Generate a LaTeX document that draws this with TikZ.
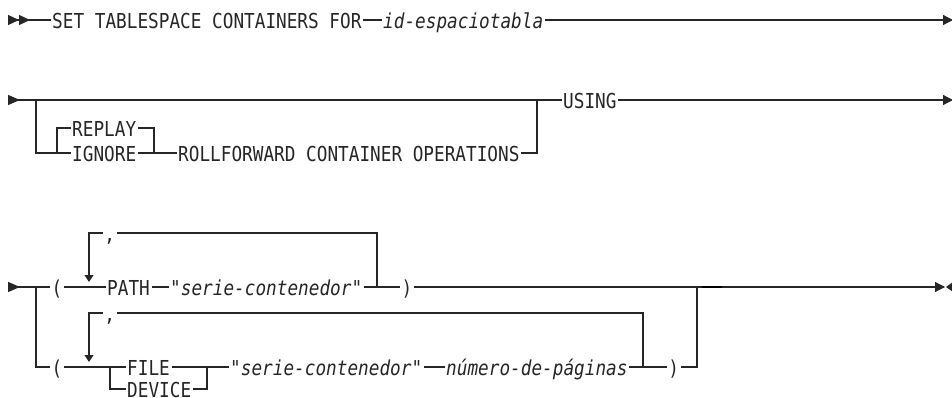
\documentclass[tikz,border=0pt]{standalone}
\usepackage{fontspec}
\setmonofont[FakeStretch=0.86]{DejaVu Sans Mono}
\usetikzlibrary{arrows.meta}

\begin{document}
\begin{tikzpicture}[
    x=1pt, y=-1pt,
    kw/.style={anchor=west, font=\fontsize{20.6}{24}\selectfont\ttfamily, inner xsep=1.5pt, inner ysep=0pt, text height=17pt, text depth=0pt, text=black!85},
    var/.style={kw, font=\fontsize{20.6}{24}\selectfont\ttfamily\itshape},
    rail/.style={line width=1.1pt, black!85},
    begin/.style={{Triangle[reversed,length=12pt,width=10pt]}-},
    begin2/.style={{Triangle[reversed,length=11pt,width=10pt]Triangle[reversed,length=11pt,width=10pt]}-},
    fin/.style={-{Triangle[length=10pt,width=10pt]}},
    down/.style={-{Triangle[length=7pt,width=9pt]}}
]
\useasboundingbox (0,0) rectangle (952,398);

% row 1
\coordinate (s1) at (8,20);
\coordinate (e1) at (953,20);
\node[kw] (set) at (50.5,20) {SET TABLESPACE CONTAINERS FOR};
\node[var] (tsid) at (381.5,20) {id-espaciotabla};
\draw[rail,begin2] (s1) -- (set.west);
\draw[rail] (set.east) -- (tsid.west);
\draw[rail,fin] (tsid.east) -- (e1);

% row 2
\coordinate (s2) at (8,100);
\coordinate (b2) at (36,100);
\coordinate (b2r) at (57,153);
\coordinate (m2) at (154,153);
\coordinate (j2) at (537,100);
\coordinate (e2) at (953,100);
\node[kw] (replay) at (70.5,128) {REPLAY};
\node[kw] (ignore) at (70.5,153) {IGNORE};
\node[kw] (rollf) at (176.5,153) {ROLLFORWARD CONTAINER OPERATIONS};
\node[kw] (using) at (561.5,100) {USING};
\draw[rail,begin] (s2) -- (using.west);
\draw[rail] (b2) |- (ignore.west);
\draw[rail] (b2r) |- (replay.west);
\draw[rail] (replay.east) -| (m2);
\draw[rail] (ignore.east) -- (rollf.west);
\draw[rail] (rollf.east) -| (j2);
\draw[rail,fin] (using.east) -- (e2);

% row 3
\coordinate (s3) at (8,287);
\coordinate (b3) at (36,287);
\coordinate (loop3) at (377,287);
\coordinate (tip3) at (89,282);
\coordinate (j3) at (697,287);
\coordinate (e3) at (945,287);
\node[kw] (lp1) at (50,287) {(};
\node[kw] (pth) at (105.5,287) {PATH};
\node[var] (ser1) at (168.5,287) {"serie-contenedor"};
\node[kw] (rp1) at (400,287) {)};
\node[kw] (cm1) at (102.7,233) {,};
\draw[rail,begin] (s3) -- (lp1.west);
\draw[rail] (lp1.east) -- (pth.west);
\draw[rail] (pth.east) -- (ser1.west);
\draw[rail] (ser1.east) -- (rp1.west);
\draw[rail,fin] (rp1.east) -- (e3);
\draw[line width=2.4pt, black] (702,287) -- (722,287);
\fill[black!85] (953,282) -- (946,287) -- (953,292) -- cycle;
\draw[rail] (loop3) |- (cm1.east);
\draw[rail,down] (cm1.west) -| (tip3);

% row 4
\coordinate (b4) at (110,367);
\coordinate (m4) at (207,367);
\coordinate (loop4) at (643,367);
\coordinate (tip4) at (89,362);
\node[kw] (lp2) at (50,367) {(};
\node[kw] (file) at (125.5,367) {FILE};
\node[kw] (dev) at (125.5,389) {DEVICE};
\node[var] (ser2) at (228.5,367) {"serie-contenedor"};
\node[var] (npag) at (444.5,367) {número-de-páginas};
\node[kw] (rp2) at (666.7,367) {)};
\node[kw] (cm2) at (102.7,313) {,};
\draw[rail] (b3) |- (lp2.west);
\draw[rail] (lp2.east) -- (file.west);
\draw[rail] (b4) |- (dev.west);
\draw[rail] (dev.east) -| (m4);
\draw[rail] (file.east) -- (ser2.west);
\draw[rail] (ser2.east) -- (npag.west);
\draw[rail] (npag.east) -- (rp2.west);
\draw[rail] (rp2.east) -| (j3);
\draw[rail] (loop4) |- (cm2.east);
\draw[rail,down] (cm2.west) -| (tip4);
\end{tikzpicture}
\end{document}
